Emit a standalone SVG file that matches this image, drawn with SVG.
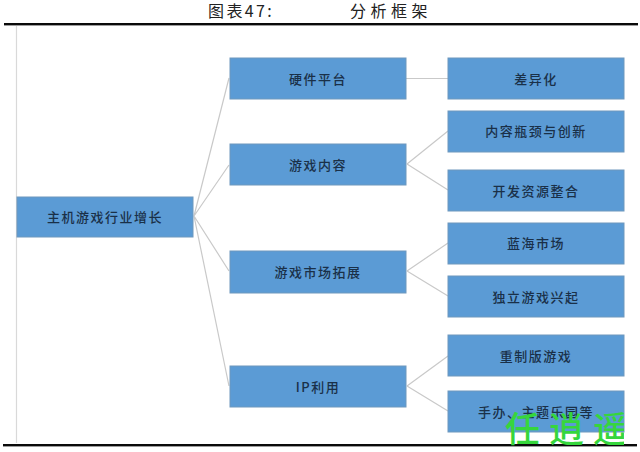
<svg xmlns="http://www.w3.org/2000/svg" width="640" height="452" viewBox="0 0 640 452">
<defs><clipPath id="wm"><rect x="490" y="400" width="134" height="52"/></clipPath></defs>
<style>
.n{fill:#5b9bd5;stroke:#6f98bd;stroke-width:1}
.t{font-family:"Noto Sans CJK SC","Liberation Serif",serif;font-size:13px;font-weight:500;fill:#1a3048;text-anchor:middle;letter-spacing:1.5px}
.c{stroke:#c9c9c9;stroke-width:1.2;fill:none}
.h{font-family:"Noto Sans CJK SC","Liberation Serif",serif;font-size:16px;fill:#222}
.w{font-family:"Noto Sans CJK SC",sans-serif;font-size:35px;font-weight:500;fill:#36d63c}
</style>
<rect width="640" height="452" fill="#fff"/>
<text class="h" x="208" y="17" letter-spacing="2.400">图表47:</text>
<text class="h" x="350" y="17" letter-spacing="4.500">分析框架</text>
<rect x="4" y="23" width="634" height="2.400" fill="#0a0a0a"/>
<rect x="3" y="444" width="634" height="2.400" fill="#0a0a0a"/>
<path d="M16.500 26V443" stroke="#d9d9d9" stroke-width="1.200" fill="none"/>
<g id="connectors">
<path class="c" d="M194 216L229 78M194 216L229 165M194 216L229 271M194 216L229 386"/>
<path class="c" d="M406 78.500H448M407 164L448 131M407 164L448 190M407 271L448 243M407 271L448 296M407 386L448 356M407 386L448 411"/>
</g>
<g id="n0"><rect class="n" x="17" y="197" width="176" height="40"/><text class="t" x="105" y="222">主机游戏行业增长</text></g>
<g id="n1"><rect class="n" x="230" y="58" width="176" height="41"/><text class="t" x="318" y="84">硬件平台</text></g>
<g id="n2"><rect class="n" x="230" y="144" width="176" height="41"/><text class="t" x="318" y="170">游戏内容</text></g>
<g id="n3"><rect class="n" x="230" y="251" width="176" height="42"/><text class="t" x="318" y="277">游戏市场拓展</text></g>
<g id="n4"><rect class="n" x="230" y="366" width="176" height="41"/><text class="t" x="318" y="392">IP利用</text></g>
<g id="n5"><rect class="n" x="448" y="58" width="176" height="41"/><text class="t" x="536" y="84">差异化</text></g>
<g id="n6"><rect class="n" x="448" y="111" width="176" height="41"/><text class="t" x="536" y="136">内容瓶颈与创新</text></g>
<g id="n7"><rect class="n" x="448" y="170" width="176" height="41"/><text class="t" x="536" y="196">开发资源整合</text></g>
<g id="n8"><rect class="n" x="448" y="223" width="176" height="41"/><text class="t" x="536" y="248">蓝海市场</text></g>
<g id="n9"><rect class="n" x="448" y="276" width="176" height="41"/><text class="t" x="536" y="302">独立游戏兴起</text></g>
<g id="n10"><rect class="n" x="448" y="335" width="176" height="41"/><text class="t" x="536" y="361">重制版游戏</text></g>
<g id="n11"><rect class="n" x="448" y="391" width="176" height="41"/><text class="t" x="536" y="417">手办、主题乐园等</text></g>
<g clip-path="url(#wm)"><text class="w" x="505" y="442" letter-spacing="9">任逍遥</text></g>
</svg>
